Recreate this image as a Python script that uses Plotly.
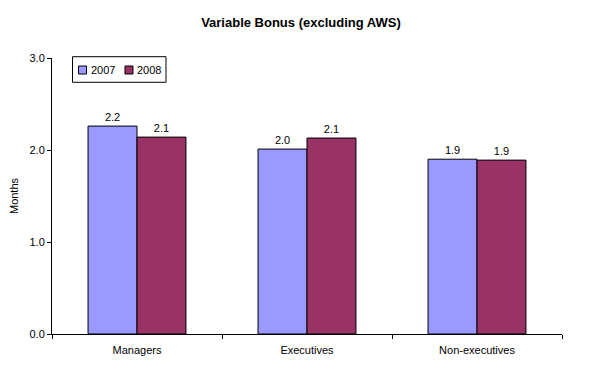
import plotly.graph_objects as go

categories = ["Managers", "Executives", "Non-executives"]
series_names = ["2007", "2008"]
values_2007 = [2.26, 2.01, 1.90]
values_2008 = [2.14, 2.13, 1.89]
labels_2007 = ["2.2", "2.0", "1.9"]
labels_2008 = ["2.1", "2.1", "1.9"]
ytick_vals = [0, 1, 2, 3]
ytick_text = ["0.0", "1.0", "2.0", "3.0"]

colors = ["#9999FF", "#993366"]
font = "Liberation Sans, Arial, sans-serif"

fig = go.Figure()
for name, vals, labs, col in zip(series_names, [values_2007, values_2008],
                                 [labels_2007, labels_2008], colors):
    fig.add_trace(go.Bar(name=name, x=categories, y=vals, text=labs,
                         textposition="outside", cliponaxis=False,
                         marker=dict(color=col, line=dict(color="black", width=1))))

# legend drawn as a compact box (Excel style)
shapes = [dict(type="rect", xref="paper", yref="paper", x0=0.0402, x1=0.2235,
               y0=0.912, y1=1.0047, line=dict(color="black", width=1),
               fillcolor="white", layer="above")]
annotations = []
sq_x = [0.052, 0.1431]
txt_x = [0.0716, 0.1627]
for name, col, sx, tx in zip(series_names, colors, sq_x, txt_x):
    shapes.append(dict(type="rect", xref="paper", yref="paper", x0=sx, x1=sx + 0.0157,
                       y0=0.942, y1=0.971, line=dict(color="black", width=1),
                       fillcolor=col, layer="above"))
    annotations.append(dict(text=name, xref="paper", yref="paper", x=tx, y=0.9565,
                            xanchor="left", yanchor="middle", showarrow=False,
                            font=dict(family=font, size=11, color="black")))

fig.update_layout(
    width=604, height=371,
    margin=dict(l=44, r=50, t=50, b=45, autoexpand=False),
    paper_bgcolor="white", plot_bgcolor="white",
    font=dict(family=font, size=11, color="black"),
    title=dict(text="<b>Variable Bonus (excluding AWS)</b>", x=0.485, xanchor="center",
               y=0.962, yanchor="middle", font=dict(family=font, size=13, color="black")),
    barmode="group", bargap=0.424, bargroupgap=0,
    uniformtext=dict(minsize=11, mode="show"),
    showlegend=False,
    shapes=shapes, annotations=annotations,
    xaxis=dict(showline=True, linecolor="black", linewidth=1, ticks="outside",
               tickson="boundaries", ticklen=4, tickcolor="black", showgrid=False,
               automargin=False, ticklabelstandoff=6, tickfont=dict(family=font, size=11)),
    yaxis=dict(range=[0, 3], tickvals=ytick_vals, ticktext=ytick_text, showline=True,
               linecolor="black", linewidth=1, ticks="outside", ticklen=4,
               tickcolor="black", showgrid=False, zeroline=False, automargin=False,
               title=dict(text="Months", font=dict(family=font, size=11), standoff=14),
               tickfont=dict(family=font, size=11)),
)
fig.update_traces(textfont=dict(family=font, size=11, color="black"))

fig.write_html("out.html")
